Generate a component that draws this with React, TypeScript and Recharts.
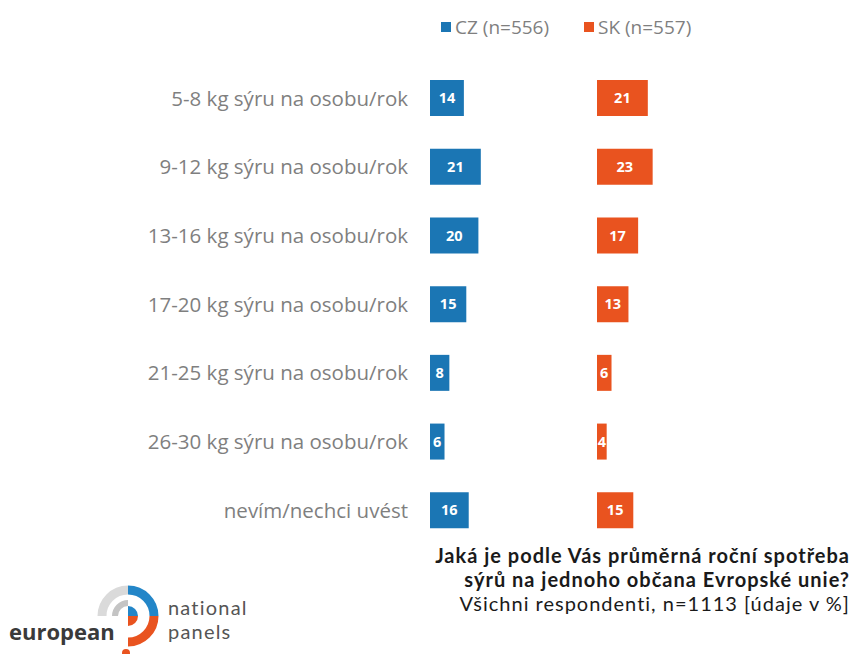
import { BarChart, Bar, XAxis, YAxis, LabelList } from 'recharts'

const categories = [
  '5-8 kg sýru na osobu/rok',
  '9-12 kg sýru na osobu/rok',
  '13-16 kg sýru na osobu/rok',
  '17-20 kg sýru na osobu/rok',
  '21-25 kg sýru na osobu/rok',
  '26-30 kg sýru na osobu/rok',
  'nevím/nechci uvést'
]
const czValues = [14, 21, 20, 15, 8, 6, 16]
const skValues = [21, 23, 17, 13, 6, 4, 15]
const seriesNames = ['CZ (n=556)', 'SK (n=557)']

const BLUE = '#1b76b4'
const ORANGE = '#e9531f'
const FONT = '"Open Sans", sans-serif'
const TITLE_FONT = 'Lato, sans-serif'

const rows = categories.map((name, i) => ({ name, cz: czValues[i], sk: skValues[i] }))

const valueLabel = {
  position: 'center' as const,
  fill: '#fff',
  fontSize: 14.5,
  fontWeight: 700,
  fontFamily: FONT
}

// logo, drawn roughly
function Logo() {
  return (
    <div style={{ position: 'absolute', left: 0, top: 570, width: 280, height: 84 }}>
      <svg width={280} height={84} style={{ position: 'absolute', left: 0, top: 0 }}>
        <path d="M 102 46 A 26 26 0 0 1 128 20" stroke="#dadada" strokeWidth={9} fill="none" />
        <path d="M 115 46 A 13 13 0 0 1 128 33" stroke="#c4c4c4" strokeWidth={6} fill="none" />
        <path d="M 128 20 A 26 26 0 0 1 154 46" stroke="#2386c8" strokeWidth={9} fill="none" />
        <path d="M 128 46 L 128 36 A 10 10 0 0 1 138 46 Z" fill="#2386c8" />
        <path d="M 154 46 A 26 26 0 0 1 128 72" stroke="#e9531f" strokeWidth={9} fill="none" />
        <path d="M 128 46 L 138 46 A 10 10 0 0 1 128 56 Z" fill="#e9531f" />
        <circle cx={126} cy={83} r={4} fill="#e9531f" />
        <text x={9} y={70} fontFamily={FONT} fontSize={22} fontWeight={700} fill="#3a3a3a">european</text>
      </svg>
      <div style={{ position: 'absolute', left: 168, top: 25, fontFamily: TITLE_FONT, fontSize: 20, lineHeight: '24px', letterSpacing: 1.2, color: '#555' }}>
        <div>national</div>
        <div>panels</div>
      </div>
    </div>
  )
}

export default function App() {
  return (
    <div style={{ position: 'absolute', left: 0, top: 0, width: 852, height: 654, background: '#fff', overflow: 'hidden' }}>
      <div style={{ position: 'absolute', top: 14, left: 441, display: 'flex', fontFamily: FONT, fontSize: 19, color: '#7f7f7f' }}>
        <span style={{ display: 'flex', alignItems: 'center', width: 143 }}>
          <span style={{ width: 10, height: 10, background: BLUE, marginRight: 4 }} />
          {seriesNames[0]}
        </span>
        <span style={{ display: 'flex', alignItems: 'center' }}>
          <span style={{ width: 10, height: 10, background: ORANGE, marginRight: 4 }} />
          {seriesNames[1]}
        </span>
      </div>

      <div style={{ position: 'absolute', left: 0, top: 64 }}>
        <BarChart width={551} height={481} data={rows} layout="vertical" margin={{ top: 0, right: 0, bottom: 0, left: 0 }}>
          <XAxis type="number" domain={[0, 50]} hide />
          <YAxis
            type="category"
            dataKey="name"
            width={430}
            axisLine={false}
            tickLine={false}
            tickSize={0}
            tickMargin={22}
            tick={{ fill: '#7f7f7f', fontSize: 20.5, fontFamily: FONT }}
          />
          <Bar dataKey="cz" fill={BLUE} barSize={36} isAnimationActive={false}>
            <LabelList dataKey="cz" {...valueLabel} />
          </Bar>
        </BarChart>
      </div>

      <div style={{ position: 'absolute', left: 597, top: 64 }}>
        <BarChart width={121} height={481} data={rows} layout="vertical" margin={{ top: 0, right: 0, bottom: 0, left: 0 }}>
          <XAxis type="number" domain={[0, 50]} hide />
          <YAxis type="category" dataKey="name" hide />
          <Bar dataKey="sk" fill={ORANGE} barSize={36} isAnimationActive={false}>
            <LabelList dataKey="sk" {...valueLabel} />
          </Bar>
        </BarChart>
      </div>

      <div style={{ position: 'absolute', right: 2, top: 543, textAlign: 'right', fontFamily: TITLE_FONT, fontSize: 20, lineHeight: '24px', letterSpacing: 1, color: '#1a1a1a' }}>
        <div style={{ fontWeight: 700 }}>Jaká je podle Vás průměrná roční spotřeba</div>
        <div style={{ fontWeight: 700 }}>sýrů na jednoho občana Evropské unie?</div>
        <div>Všichni respondenti, n=1113 [údaje v %]</div>
      </div>

      <Logo />
    </div>
  )
}
